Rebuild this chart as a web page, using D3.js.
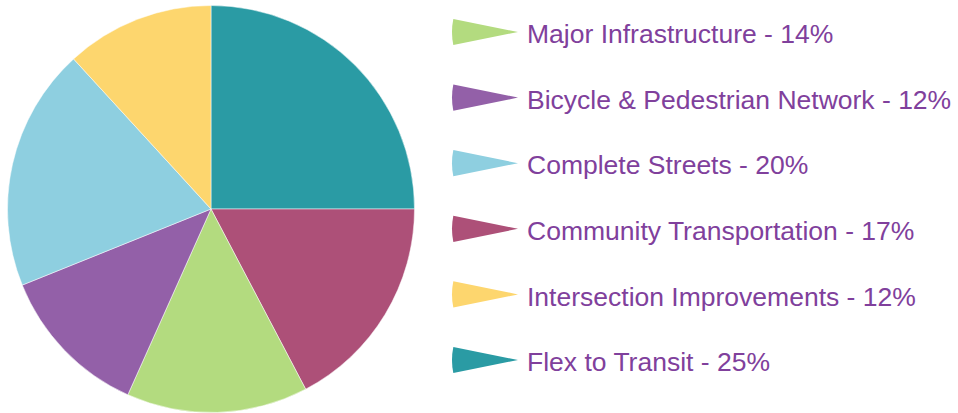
<!DOCTYPE html>
<html>
<head>
<meta charset="utf-8">
<script src="https://cdn.jsdelivr.net/npm/d3@7"></script>
<style>
  html, body { margin: 0; padding: 0; background: #fff; }
</style>
</head>
<body>
<div id="chart"></div>
<script>
// slices, drawn clockwise from 12 o'clock (shares)
const pieNames = ["Flex to Transit", "Community Transportation", "Major Infrastructure",
  "Bicycle & Pedestrian Network", "Complete Streets", "Intersection Improvements"];
const pieValues = [25, 17.3, 14.4, 12.2, 19.3, 11.8];
const pieColors = ["#2a9ba4", "#ad5078", "#b3db7f", "#9360a8", "#8ecfe0", "#fdd66e"];

// legend order, top to bottom, with the rounded percent shown in the label
const legendNames = ["Major Infrastructure", "Bicycle & Pedestrian Network", "Complete Streets",
  "Community Transportation", "Intersection Improvements", "Flex to Transit"];
const legendPct = [14, 12, 20, 17, 12, 25];

const width = 958;
const height = 413;

const svg = d3.select("#chart")
  .append("svg")
  .attr("width", width)
  .attr("height", height)
  .style("font-family", "'Liberation Sans', Arial, sans-serif");

const data = pieNames.map((n, i) => ({ name: n, value: pieValues[i], color: pieColors[i] }));
const colorOf = new Map(data.map(d => [d.name, d.color]));

const radius = 203.5;
const pie = d3.pie().sort(null).value(d => d.value);
const arc = d3.arc().innerRadius(0).outerRadius(radius);

const g = svg.append("g").attr("transform", "translate(211,209)");

g.selectAll("path")
  .data(pie(data))
  .join("path")
  .attr("d", arc)
  .attr("fill", d => d.data.color)
  .attr("stroke", "#fff")
  .attr("stroke-width", 0.5);

// legend: little wedges pointing right
const y = d3.scalePoint().domain(legendNames).range([32, 360]);
const marker = d3.arc()
  .innerRadius(0)
  .outerRadius(66)
  .startAngle(-Math.PI / 2 - 0.2)
  .endAngle(-Math.PI / 2 + 0.2);

const item = svg.append("g")
  .selectAll("g")
  .data(legendNames)
  .join("g")
  .attr("transform", d => `translate(518,${y(d)})`);

item.append("path")
  .attr("d", marker)
  .attr("fill", d => colorOf.get(d));

item.append("text")
  .attr("x", 9)
  .attr("y", 2)
  .attr("dy", "0.35em")
  .attr("fill", "#80409c")
  .style("font-size", "26.5px")
  .text((d, i) => `${d} - ${legendPct[i]}%`);
</script>
</body>
</html>
